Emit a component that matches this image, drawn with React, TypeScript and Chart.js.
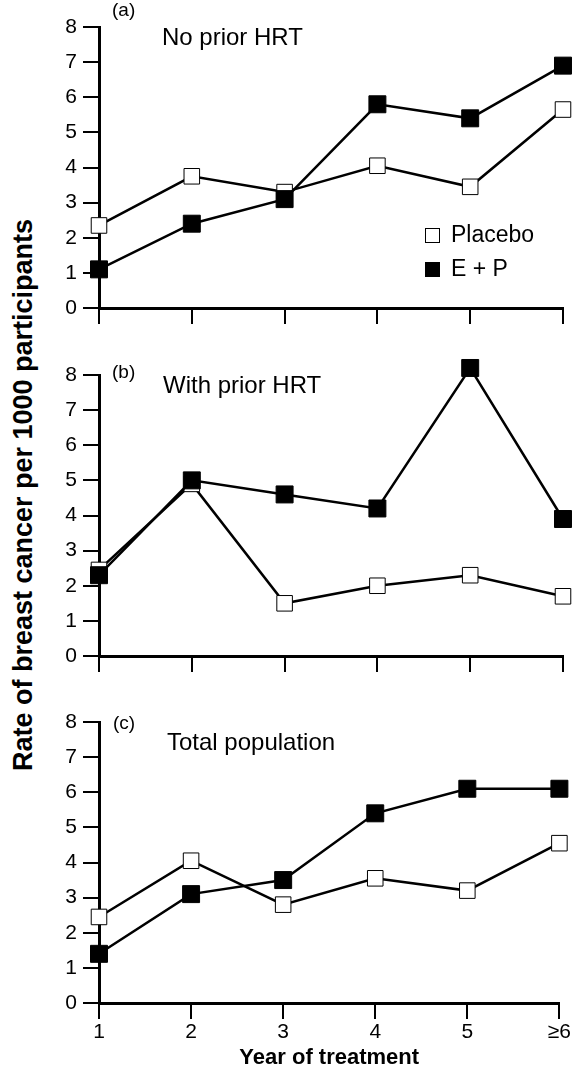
import React, { useEffect, useRef } from 'react';
import { Chart, registerables } from 'chart.js';

Chart.register(...registerables);

// ---- data ----
const years = ['1', '2', '3', '4', '5', '≥6'];
const yMin = 0;
const yMax = 8;

const placeboNoPrior = [2.35, 3.75, 3.3, 4.05, 3.45, 5.65];
const epNoPrior = [1.1, 2.4, 3.1, 5.8, 5.4, 6.9];

const placeboWithPrior = [2.45, 4.9, 1.5, 2.0, 2.3, 1.7];
const epWithPrior = [2.3, 5.0, 4.6, 4.2, 8.2, 3.9];

const placeboTotal = [2.45, 4.05, 2.8, 3.55, 3.2, 4.55];
const epTotal = [1.4, 3.1, 3.5, 5.4, 6.1, 6.1];

const seriesNames = ['Placebo', 'E + P'];
const panelLetters = ['(a)', '(b)', '(c)'];
const panelTitles = ['No prior HRT', 'With prior HRT', 'Total population'];
const xTitle = 'Year of treatment';
const yTitle = 'Rate of breast cancer per 1000 participants';

const FONT = '"Liberation Sans", Arial, Helvetica, sans-serif';

const panelText = {
  id: 'panelText',
  afterDraw(chart: any, _args: any, opts: any) {
    const { ctx, chartArea } = chart;
    const L = chartArea.left;
    const T = chartArea.top;
    ctx.save();
    ctx.fillStyle = '#000';
    ctx.textAlign = 'left';
    ctx.textBaseline = 'alphabetic';
    ctx.font = `19px ${FONT}`;
    ctx.fillText(opts.letter, L + opts.letterX, T + opts.letterY);
    ctx.font = `24px ${FONT}`;
    ctx.fillText(opts.subtitle, L + opts.subX, T + opts.subY);
    if (opts.legend) {
      const order = [seriesNames[0], seriesNames[1]];
      order.forEach((name, i) => {
        const ds = chart.data.datasets.find((d: any) => d.label === name);
        const bx = L + 326;
        const by = T + 201 + i * 34;
        const size = 15;
        ctx.fillStyle = ds.pointBackgroundColor;
        ctx.fillRect(bx, by, size, size);
        ctx.strokeStyle = '#000';
        ctx.lineWidth = 1;
        ctx.strokeRect(bx + 0.5, by + 0.5, size - 1, size - 1);
        ctx.fillStyle = '#000';
        ctx.font = `23px ${FONT}`;
        ctx.fillText(name, L + 352, by + 14);
      });
    }
    ctx.restore();
  },
};

type PanelProps = {
  top: number;
  height: number;
  padTop: number;
  padBottom: number;
  axisHeight: number;
  placebo: number[];
  ep: number[];
  text: any;
  showXLabels: boolean;
};

function Panel({ top, height, padTop, padBottom, axisHeight, placebo, ep, text, showXLabels }: PanelProps) {
  const ref = useRef<HTMLCanvasElement>(null);
  useEffect(() => {
    if (!ref.current) return;
    const tickFont = { family: FONT, size: 21 };
    const chart = new Chart(ref.current, {
      type: 'line',
      data: {
        labels: years,
        datasets: [
          {
            label: seriesNames[1],
            data: ep,
            borderColor: '#000',
            backgroundColor: '#000',
            borderWidth: 2.5,
            tension: 0,
            pointStyle: 'rect',
            pointRadius: 12,
            pointHoverRadius: 12,
            pointBackgroundColor: '#000',
            pointBorderColor: '#000',
            pointBorderWidth: 1,
            clip: false,
          } as any,
          {
            label: seriesNames[0],
            data: placebo,
            borderColor: '#000',
            backgroundColor: '#fff',
            borderWidth: 2.5,
            tension: 0,
            pointStyle: 'rect',
            pointRadius: 11,
            pointHoverRadius: 11,
            pointBackgroundColor: '#fff',
            pointBorderColor: '#000',
            pointBorderWidth: 1,
            clip: false,
          } as any,
        ],
      },
      options: {
        responsive: false,
        animation: false,
        events: [],
        layout: {
          autoPadding: false,
          padding: { top: padTop, right: 9, bottom: padBottom, left: 0 },
        },
        plugins: {
          legend: { display: false },
          tooltip: { enabled: false },
          panelText: text,
        } as any,
        scales: {
          x: {
            type: 'category',
            offset: false,
            grid: {
              drawOnChartArea: false,
              drawTicks: true,
              tickLength: 16,
              color: '#000',
              lineWidth: 2,
            },
            border: { display: true, color: '#000', width: 3 },
            ticks: {
              display: showXLabels,
              color: '#000',
              font: tickFont,
              padding: 1,
              maxRotation: 0,
              autoSkip: false,
            },
            title: {
              display: showXLabels,
              text: xTitle,
              color: '#000',
              font: { family: FONT, size: 22, weight: 'bold' },
              padding: 0,
            },
            afterFit: (s: any) => {
              s.height = axisHeight;
            },
          } as any,
          y: {
            min: yMin,
            max: yMax,
            grid: {
              drawOnChartArea: false,
              drawTicks: true,
              tickLength: 16,
              color: '#000',
              lineWidth: 2,
            },
            border: { display: true, color: '#000', width: 3 },
            ticks: {
              stepSize: 1,
              color: '#000',
              font: tickFont,
              padding: 6,
            },
            afterFit: (s: any) => {
              s.width = 59;
            },
          } as any,
        },
      },
      plugins: [panelText as any],
    });
    return () => chart.destroy();
  }, []);
  return (
    <canvas
      ref={ref}
      width={532}
      height={height}
      style={{ position: 'absolute', left: 40, top, width: 532, height, display: 'block' }}
    />
  );
}

export default function App() {
  return (
    <div
      style={{
        position: 'absolute',
        left: 0,
        top: 0,
        width: 572,
        height: 1071,
        overflow: 'hidden',
        background: '#fff',
      }}
    >
      <Panel
        top={0}
        height={328}
        padTop={27}
        padBottom={4}
        axisHeight={16}
        placebo={placeboNoPrior}
        ep={epNoPrior}
        showXLabels={false}
        text={{
          letter: panelLetters[0],
          letterX: 13,
          letterY: -11,
          subtitle: panelTitles[0],
          subX: 63,
          subY: 18,
          legend: true,
        }}
      />
      <Panel
        top={352}
        height={324}
        padTop={23}
        padBottom={4}
        axisHeight={16}
        placebo={placeboWithPrior}
        ep={epWithPrior}
        showXLabels={false}
        text={{
          letter: panelLetters[1],
          letterX: 13,
          letterY: 3,
          subtitle: panelTitles[1],
          subX: 64,
          subY: 18,
          legend: false,
        }}
      />
      <Panel
        top={700}
        height={371}
        padTop={22}
        padBottom={0}
        axisHeight={68}
        placebo={placeboTotal}
        ep={epTotal}
        showXLabels={true}
        text={{
          letter: panelLetters[2],
          letterX: 14,
          letterY: 7,
          subtitle: panelTitles[2],
          subX: 68,
          subY: 28,
          legend: false,
        }}
      />
      <div
        style={{
          position: 'absolute',
          left: 24,
          top: 495,
          transform: 'translate(-50%, -50%) rotate(-90deg)',
          whiteSpace: 'nowrap',
          fontFamily: FONT,
          fontWeight: 'bold',
          fontSize: 27,
          lineHeight: 1.15,
          color: '#000',
        }}
      >
        {yTitle}
      </div>
    </div>
  );
}
